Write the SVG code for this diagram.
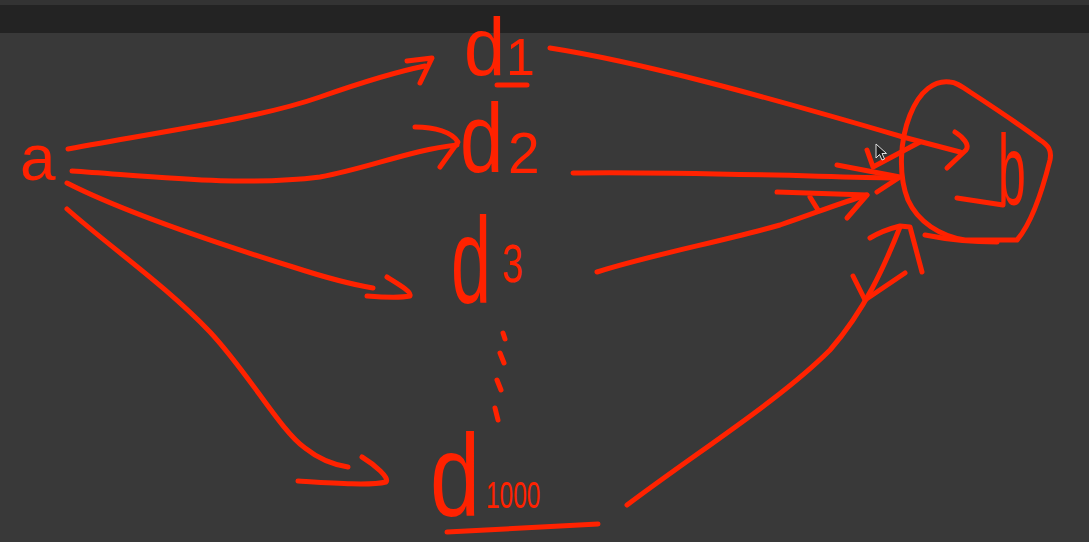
<svg xmlns="http://www.w3.org/2000/svg" width="1089" height="542" viewBox="0 0 1089 542">
<style>
.s{fill:none;stroke:#ff2200;stroke-width:5;stroke-linecap:round;stroke-linejoin:round}
.t{fill:#ff2200;font-family:"Liberation Sans",Arial,sans-serif}
</style>
<rect x="0" y="0" width="1089" height="542" fill="#393939"/>
<rect x="0" y="0" width="1089" height="5" fill="#333333"/>
<rect x="0" y="5" width="1089" height="28" fill="#232323"/>
<g id="node-a">
<text class="t" x="20" y="180" font-size="64">a</text>
</g>
<g id="node-d1">
<text class="t" transform="translate(464,75) scale(0.9,1)" font-size="82">d</text>
<text class="t" x="506" y="75" font-size="52">1</text>
<path class="s" d="M497,85 L527,85"/>
</g>
<g id="node-d2">
<text class="t" transform="translate(460,172) scale(1,1.25)" font-size="78">d</text>
<text class="t" x="508" y="173" font-size="57">2</text>
</g>
<g id="node-d3">
<text class="t" transform="translate(451,303) scale(1,1.7)" font-size="72">d</text>
<text class="t" transform="translate(502,282) scale(0.7,1)" font-size="54">3</text>
</g>
<g id="ellipsis">
<path class="s" d="M503,333 L505,339 M500,353 L504,363 M497,380 L501,390 M495,408 L498,420"/>
</g>
<g id="node-d1000">
<text class="t" transform="translate(430,516) scale(1,1.29)" font-size="90">d</text>
<text class="t" transform="translate(486,508) scale(0.68,1)" font-size="36">1000</text>
<path class="s" d="M447,532 L598,524"/>
</g>
<g id="node-b">
<path class="s" d="M950,82 C935,80 920,90 910,115 C900,140 898,175 908,200 C918,222 940,236 965,240 L1017,240 C1030,225 1040,200 1050,160 C1052,150 1048,145 1040,140 C1020,125 990,105 970,92 C960,85 955,82 950,82 Z"/>
<path class="s" d="M925,235 C950,240 975,242 997,242"/>
<path class="s" d="M957,198 L1003,205"/>
<text class="t" transform="translate(998,205) scale(0.5,1)" font-size="100">b</text>
</g>
<g id="connectors">
<path class="s" d="M68,149 C170,130 260,118 320,97 C360,83 395,72 425,66"/>
<path class="s" d="M407,61 L432,58 L420,83"/>
<path class="s" d="M72,171 C150,176 240,187 320,177 C370,168 410,150 457,145"/>
<path class="s" d="M415,127 C435,127 452,132 458,142 L440,167"/>
<path class="s" d="M67,183 C120,210 200,238 293,267 C330,279 355,285 373,288"/>
<path class="s" d="M387,277 C400,285 412,292 410,296 C400,298 380,297 367,296"/>
<path class="s" d="M67,209 C110,247 165,285 210,332 C250,375 280,430 305,448 C320,460 335,465 348,467"/>
<path class="s" d="M362,457 C375,465 390,478 386,482 C370,486 330,483 298,481"/>
<path class="s" d="M550,48 C640,62 760,95 903,137 L960,152"/>
<path class="s" d="M955,132 C963,137 970,145 966,150 L947,168"/>
<path class="s" d="M867,150 L873,167 L920,142"/>
<path class="s" d="M573,173 C650,171 800,176 897,178"/>
<path class="s" d="M837,165 L900,177 L877,192"/>
<path class="s" d="M597,272 C650,255 720,242 780,225 C810,215 840,203 867,195"/>
<path class="s" d="M777,192 L867,195 L847,218 M810,197 L818,210"/>
<path class="s" d="M627,505 C700,450 780,400 830,350 C865,310 885,265 900,227"/>
<path class="s" d="M870,238 C880,232 892,228 900,226 L910,227 L922,272"/>
<path class="s" d="M853,276 L865,300 L905,273"/>
</g>
<g id="cursor">
<path d="M876,144 L876,158 L879.5,154.5 L882,160 L884.5,159 L882,153.5 L886.5,153.5 Z" fill="#1e1e1e" stroke="#e0e0e0" stroke-width="1"/>
</g>
</svg>
